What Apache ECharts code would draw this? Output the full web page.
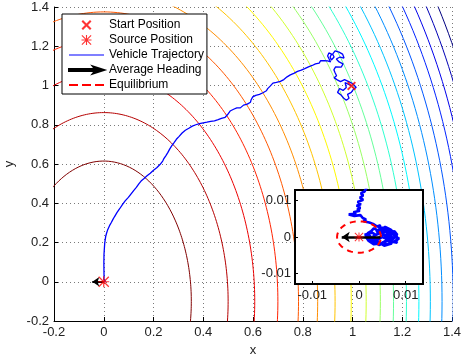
<!DOCTYPE html>
<html><head><meta charset="utf-8">
<script src="https://cdn.jsdelivr.net/npm/echarts@6/dist/echarts.min.js"></script>
<style>html,body{margin:0;padding:0;background:#fff}#c{width:465px;height:356px}</style>
</head><body><div id="c"></div>
<script>
// ---------- data ----------
const xTicks = [-0.2, 0, 0.2, 0.4, 0.6, 0.8, 1, 1.2, 1.4];
const yTicks = [-0.2, 0, 0.2, 0.4, 0.6, 0.8, 1, 1.2, 1.4];
const insetXTicks = [-0.01, 0, 0.01];
const insetYTicks = [-0.01, 0, 0.01];
// level-set ellipses of the signal field (semi-axes in x and y), centre y offset
const contourA = [0.352, 0.50, 0.607, 0.70, 0.783, 0.86, 0.93, 0.995, 1.055, 1.112, 1.165, 1.217, 1.267, 1.313, 1.36, 1.405, 1.45, 1.49, 1.53, 1.57];
const contourB = [0.715, 0.962, 1.166, 1.337, 1.475, 1.59, 1.72, 1.84, 1.95, 2.06, 2.155, 2.25, 2.345, 2.43, 2.515, 2.6, 2.68, 2.755, 2.83, 2.905];
const contourCenterY = -0.1;
const startPosition = [0.996, 0.998];
const sourcePosition = [0, 0];
const headingMain = [[0, 0], [-0.046, 0]];
const headingInset = [[0.0046, 0], [-0.0037, 0]];
const equilibriumCenter = [0, 0];
const equilibriumRadius = [0.0047, 0.0043];
// main-scale part of the vehicle trajectory (start -> near source)
const trajectoryFar = [
  [0.996,0.998],[0.985,1.005],[0.97,1.015],[0.975,0.99],[0.962,0.975],[0.948,0.985],[0.94,0.965],[0.955,0.95],
  [0.965,0.935],[0.975,0.925],[0.986,0.935],[0.98,0.955],[0.995,0.965],[1.005,0.983],[1.015,0.99],[1.0,1.01],
  [0.985,1.02],[0.968,1.03],[0.952,1.02],[0.937,1.03],[0.926,1.04],[0.936,1.05],[0.93,1.065],[0.925,1.08],
  [0.932,1.095],[0.94,1.1],[0.955,1.094],[0.962,1.11],[0.946,1.12],[0.935,1.135],[0.95,1.145],[0.966,1.14],
  [0.96,1.16],[0.946,1.17],[0.93,1.176],[0.92,1.16],[0.926,1.145],[0.915,1.13],[0.91,1.145],[0.916,1.16],
  [0.905,1.166],[0.9,1.15],[0.906,1.135],[0.912,1.12],
  [0.9,1.125],[0.894,1.118],[0.887,1.126],[0.879,1.12],[0.872,1.127],[0.866,1.114],[0.858,1.121],[0.851,1.11],
  [0.844,1.112],[0.838,1.102],[0.83,1.106],[0.823,1.095],[0.815,1.097],[0.808,1.086],[0.8,1.09],[0.794,1.078],
  [0.786,1.083],[0.779,1.072],[0.771,1.07],[0.764,1.062],[0.757,1.066],[0.75,1.054],[0.742,1.052],[0.737,1.044],
  [0.73,1.038],[0.724,1.03],[0.716,1.028],[0.71,1.021],[0.702,1.025],[0.694,1.016],[0.686,1.02],[0.68,1.012],
  [0.676,1.003],[0.67,0.998],[0.666,0.988],[0.659,0.984],[0.654,0.973],[0.646,0.972],[0.64,0.963],[0.632,0.962],
  [0.626,0.955],[0.618,0.957],[0.611,0.95],[0.604,0.951],[0.599,0.942],[0.597,0.932],[0.592,0.926],[0.59,0.915],
  [0.584,0.909],[0.577,0.905],[0.57,0.898],[0.562,0.9],[0.556,0.892],[0.549,0.886],[0.542,0.891],[0.535,0.886],
  [0.528,0.889],[0.522,0.879],[0.515,0.876],[0.508,0.87],[0.503,0.861],[0.498,0.852],[0.493,0.844],[0.488,0.838],
  [0.48,0.84],[0.473,0.832],[0.466,0.833],[0.46,0.826],[0.452,0.826],[0.445,0.82],[0.437,0.823],[0.43,0.817],
  [0.422,0.822],[0.415,0.813],[0.407,0.817],[0.4,0.81],[0.392,0.814],[0.385,0.806],[0.377,0.806],[0.37,0.8],
  [0.362,0.802],[0.356,0.793],[0.349,0.789],[0.342,0.782],[0.335,0.781],[0.328,0.772],[0.322,0.764],[0.315,0.758],
  [0.309,0.749],[0.303,0.741],[0.299,0.731],[0.292,0.726],[0.288,0.716],[0.282,0.708],[0.279,0.699],[0.273,0.692],
  [0.271,0.683],[0.265,0.676],[0.263,0.666],[0.258,0.659],[0.256,0.65],[0.25,0.643],[0.247,0.633],[0.241,0.626],
  [0.237,0.615],[0.23,0.607],[0.226,0.597],[0.219,0.592],[0.213,0.581],[0.206,0.577],[0.2,0.568],[0.193,0.564],
  [0.187,0.553],[0.18,0.549],[0.174,0.54],[0.166,0.535],[0.162,0.526],[0.155,0.521],[0.15,0.513],[0.144,0.507],
  [0.141,0.499],[0.135,0.49],[0.131,0.481],[0.125,0.475],[0.121,0.466],[0.115,0.458],[0.11,0.448],[0.104,0.441],
  [0.099,0.43],[0.092,0.424],[0.086,0.412],[0.08,0.404],[0.075,0.393],[0.069,0.384],[0.064,0.372],[0.058,0.362],
  [0.053,0.352],[0.048,0.343],[0.043,0.331],[0.037,0.318],[0.031,0.303],[0.025,0.29],[0.02,0.276],[0.015,0.262],
  [0.011,0.246],[0.008,0.232],[0.006,0.215],[0.004,0.198],[0.003,0.18],[0.002,0.16],[0.001,0.14],[0.0008,0.12],
  [0.0005,0.1],[0.0006,0.08],[0.0008,0.06],[0.001,0.04],[0.0012,0.025],[0.0015,0.016]
];
// last part of the trajectory, around the source (units of 0.001)
const trajectoryNearMilli = [
  [1.6,13.5],[1.2,12.5],[0.4,12.0],[0.9,11.4],[0.2,10.8],[0.9,10.2],[-0.3,9.6],[0.4,9.0],[-0.5,8.6],[0.3,8.0],
  [-0.4,7.5],[0.2,7.2],[-1.2,6.8],[-0.6,6.4],[-2.2,6.2],[-1.0,5.8],[0.3,6.0],[0.8,5.2],[1.5,4.8],[1.0,4.3],
  [2.2,4.0],[3.0,3.6],[2.6,3.1],[3.8,2.9],[4.6,3.2],[4.2,2.4],[5.4,2.6],[5.0,1.8],[6.2,2.2],[6.8,1.4],
  [7.6,1.6],[8.2,0.6],[7.4,0.2],[8.6,-0.4],[7.8,-1.0],[8.2,-1.6],[6.8,-1.2],[6.2,-2.0],[5.2,-1.4],[4.4,-2.2],
  [3.4,-1.6],[2.6,-0.8],[1.6,-0.4],[2.4,0.4],[1.2,0.6],[2.8,1.2],[3.6,0.6],[4.8,1.4],[5.6,0.4],[6.6,0.9],
  [7.2,-0.3],[6.0,-0.6],[5.0,0.0],[4.0,-0.8],[3.0,0.2],[4.4,1.0],[5.8,1.6],[6.4,0.0],[7.0,-1.8],[5.4,-2.4],
  [3.8,-1.2],[2.2,-0.2],[1.4,0.2],[2.0,-1.0],[3.2,-2.0],[4.6,-1.8],[5.8,-1.0],[7.0,-0.8],[8.0,0.2],[7.0,1.0],
  [6.0,1.8],[5.0,2.2],[4.0,1.8],[3.2,2.4],[2.6,1.6],[1.8,1.0],[3.0,-0.6],[4.2,-0.2],[5.4,0.8],[6.6,-1.4],
  [7.6,-1.2],[8.4,-0.6],[7.8,0.8],[6.8,2.0],[5.6,2.8],[4.8,2.0],[3.6,1.4]
];
const trajectory = trajectoryFar.concat(trajectoryNearMilli.map(p => [p[0] / 1000, p[1] / 1000]));

// ---------- helpers ----------
function clamp(v){ return Math.max(0, Math.min(1, v)); }
function jet(t){
  const r = clamp(1.5 - Math.abs(4*t - 3)), g = clamp(1.5 - Math.abs(4*t - 2)), b = clamp(1.5 - Math.abs(4*t - 1));
  return 'rgb(' + Math.round(r*255) + ',' + Math.round(g*255) + ',' + Math.round(b*255) + ')';
}
function ellipse(cx, cy, a, b, n){
  const pts = [];
  for (let i = 0; i <= n; i++){ const th = 2*Math.PI*i/n; pts.push([cx + a*Math.cos(th), cy + b*Math.sin(th)]); }
  return pts;
}
const X_PATH = 'path://M0,1.5 L1.5,0 L5,3.5 L8.5,0 L10,1.5 L6.5,5 L10,8.5 L8.5,10 L5,6.5 L1.5,10 L0,8.5 L3.5,5 Z';
const STAR_PATH = 'path://M0,4.45 L10,4.45 L10,5.55 L0,5.55 Z M4.45,0 L5.55,0 L5.55,10 L4.45,10 Z M0.8,0 L10,9.2 L9.2,10 L0,0.8 Z M9.2,0 L10,0.8 L0.8,10 L0,9.2 Z';
const ARROW_PATH = 'path://M0,4 L26,4 L24,1.5 L35,5 L24,8.5 L26,6 L0,6 Z';
const LINE_PATH = 'path://M0,4.4 L35,4.4 L35,5.6 L0,5.6 Z';
const DASH_PATH = 'path://M0,4 L9,4 L9,6 L0,6 Z M13,4 L22,4 L22,6 L13,6 Z M26,4 L35,4 L35,6 L26,6 Z';

const FONT = 'Liberation Sans, Arial, Helvetica, sans-serif';
const series = [];
contourA.forEach((a, k) => {
  series.push({
    type: 'line', xAxisIndex: 0, yAxisIndex: 0, data: ellipse(0, contourCenterY, a, contourB[k], 360),
    showSymbol: false, symbol: 'none', silent: true, z: 1,
    lineStyle: { color: jet(1 - k/(contourA.length - 1)), width: 1 }
  });
});
series.push({ name: 'Vehicle Trajectory', type: 'line', xAxisIndex: 0, yAxisIndex: 0, data: trajectory,
  symbol: 'none', showSymbol: false, z: 2, lineStyle: { color: '#0000ff', width: 1.3 }, itemStyle: { color: '#0000ff' } });
series.push({ name: 'Average Heading', type: 'lines', coordinateSystem: 'cartesian2d', xAxisIndex: 0, yAxisIndex: 0,
  z: 3, symbol: ['none', 'arrow'], symbolSize: 7, lineStyle: { color: '#000', width: 2, opacity: 1 }, itemStyle: { color: '#000' },
  data: [{ coords: headingMain }] });
series.push({ name: 'Source Position', type: 'scatter', xAxisIndex: 0, yAxisIndex: 0, data: [sourcePosition],
  symbol: STAR_PATH, symbolSize: 11, z: 4, itemStyle: { color: '#ff0000' } });
series.push({ name: 'Start Position', type: 'scatter', xAxisIndex: 0, yAxisIndex: 0, data: [startPosition],
  symbol: X_PATH, symbolSize: 9, z: 4, itemStyle: { color: '#ff0000' } });
// inset
series.push({ name: 'Vehicle Trajectory', type: 'line', xAxisIndex: 1, yAxisIndex: 1, data: trajectory,
  symbol: 'none', showSymbol: false, z: 6, lineStyle: { color: '#0000ff', width: 2.6 } });
series.push({ name: 'Equilibrium', type: 'line', xAxisIndex: 1, yAxisIndex: 1,
  data: ellipse(equilibriumCenter[0], equilibriumCenter[1], equilibriumRadius[0], equilibriumRadius[1], 120),
  symbol: 'none', showSymbol: false, z: 7, lineStyle: { color: '#ff0000', width: 2, type: [6, 5] }, itemStyle: { color: '#ff0000' } });
series.push({ name: 'Average Heading', type: 'lines', coordinateSystem: 'cartesian2d', xAxisIndex: 1, yAxisIndex: 1,
  z: 8, symbol: ['none', 'arrow'], symbolSize: 8, lineStyle: { color: '#000', width: 2.5, opacity: 1 },
  data: [{ coords: headingInset }] });
series.push({ name: 'Source Position', type: 'scatter', xAxisIndex: 1, yAxisIndex: 1, data: [sourcePosition],
  symbol: STAR_PATH, symbolSize: 9, z: 9, itemStyle: { color: '#ff0000' } });

const labelStyle = { color: '#222', fontSize: 13, fontFamily: FONT };
const gridLine = { show: true, lineStyle: { color: '#7a7a7a', width: 1, type: [1, 3] } };

const option = {
  animation: false,
  backgroundColor: '#fff',
  grid: [
    { left: 54, top: 7, width: 398, height: 314, show: false, containLabel: false, outerBoundsMode: 'none' },
    { left: 295, top: 190, width: 128, height: 94, show: true, backgroundColor: '#fff', borderColor: '#000', borderWidth: 2, z: 5,
      containLabel: false, outerBoundsMode: 'none' }
  ],
  xAxis: [
    { type: 'value', gridIndex: 0, min: xTicks[0], max: xTicks[xTicks.length - 1], interval: 0.2,
      name: 'x', nameLocation: 'middle', nameGap: 19, nameTextStyle: { color: '#222', fontSize: 13, fontFamily: FONT },
      axisLine: { show: true, onZero: false, lineStyle: { color: '#000', width: 1 } },
      axisTick: { show: true, inside: true, length: 4, lineStyle: { color: '#000' } },
      axisLabel: { ...labelStyle, margin: 5, formatter: v => String(+v.toFixed(2)) },
      splitLine: gridLine },
    { type: 'value', gridIndex: 1, min: -0.0137, max: 0.0137, z: 6,
      axisLine: { show: false, onZero: false },
      axisTick: { show: true, inside: true, length: 3, customValues: insetXTicks, lineStyle: { color: '#000' } },
      axisLabel: { ...labelStyle, margin: 5, customValues: insetXTicks, formatter: v => String(+v.toFixed(3)) },
      splitLine: { show: false } }
  ],
  yAxis: [
    { type: 'value', gridIndex: 0, min: yTicks[0], max: yTicks[yTicks.length - 1], interval: 0.2,
      name: 'y', nameLocation: 'middle', nameGap: 37, nameTextStyle: { color: '#222', fontSize: 13, fontFamily: FONT },
      axisLine: { show: true, onZero: false, lineStyle: { color: '#000', width: 1 } },
      axisTick: { show: true, inside: true, length: 4, lineStyle: { color: '#000' } },
      axisLabel: { ...labelStyle, margin: 5, formatter: v => String(+v.toFixed(2)) },
      splitLine: gridLine },
    { type: 'value', gridIndex: 1, min: -0.0129, max: 0.0129, z: 6,
      axisLine: { show: false, onZero: false },
      axisTick: { show: true, inside: true, length: 3, customValues: insetYTicks, lineStyle: { color: '#000' } },
      axisLabel: { ...labelStyle, margin: 4, customValues: insetYTicks, formatter: v => String(+v.toFixed(3)) },
      splitLine: { show: false } }
  ],
  legend: {
    orient: 'vertical', left: 62, top: 14, z: 10,
    backgroundColor: '#fff', borderColor: '#000', borderWidth: 1, padding: [5, 3, 3, 6],
    itemWidth: 35, itemHeight: 10, itemGap: 3, selectedMode: false,
    textStyle: { color: '#000', fontSize: 12, fontFamily: FONT },
    data: [
      { name: 'Start Position', icon: X_PATH, itemStyle: { color: '#ff0000' } },
      { name: 'Source Position', icon: STAR_PATH, itemStyle: { color: '#ff0000' } },
      { name: 'Vehicle Trajectory', icon: LINE_PATH, itemStyle: { color: '#0000ff' } },
      { name: 'Average Heading', icon: ARROW_PATH, itemStyle: { color: '#000' } },
      { name: 'Equilibrium', icon: DASH_PATH, itemStyle: { color: '#ff0000' } }
    ]
  },
  series: series
};
const chart = echarts.init(document.getElementById('c'), null, { renderer: 'canvas' });
chart.setOption(option);
</script></body></html>
